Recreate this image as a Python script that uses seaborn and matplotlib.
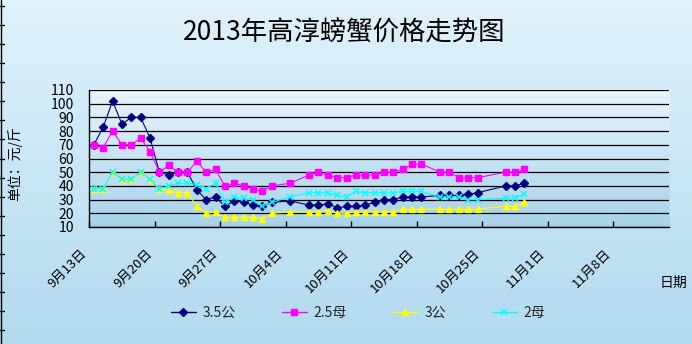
import numpy as np
import pandas as pd
import matplotlib
matplotlib.use("Agg")
import matplotlib.pyplot as plt
import seaborn as sns
from matplotlib.lines import Line2D
from matplotlib.colors import LinearSegmentedColormap

# ---- data -------------------------------------------------------------
dates = ["9-13", "9-14", "9-15", "9-16", "9-17", "9-18", "9-19", "9-20",
         "9-21", "9-22", "9-23", "9-24", "9-25", "9-26", "9-27", "9-28",
         "9-29", "9-30", "10-1", "10-2", "10-4", "10-6", "10-7", "10-8",
         "10-9", "10-10", "10-11", "10-12", "10-13", "10-14", "10-15",
         "10-16", "10-17", "10-18", "10-20", "10-21", "10-22", "10-23",
         "10-24", "10-27", "10-28", "10-29"]

price_35_male = [70, 83, 102, 85, 90, 90, 75, 50, 48, 50, 50, 37, 30, 32,
                 25, 29, 28, 26, 25, 28, 29, 26, 26, 27, 24, 25, 25, 26,
                 28, 30, 30, 32, 32, 32, 33, 33, 33, 34, 35, 40, 40, 42]
price_25_female = [70, 68, 80, 70, 70, 75, 65, 50, 55, 50, 50, 58, 50, 52,
                   40, 42, 40, 38, 36, 40, 42, 48, 50, 48, 46, 46, 48, 48,
                   48, 50, 50, 52, 56, 56, 50, 50, 46, 46, 46, 50, 50, 52]
price_3_male = [38, 38, 50, 45, 45, 50, 45, 38, 37, 35, 35, 25, 20, 21,
                17, 17, 17, 17, 16, 20, 21, 21, 21, 22, 20, 20, 21, 21,
                21, 21, 21, 23, 23, 23, 23, 23, 23, 23, 23, 25, 25, 28]
price_2_female = [38, 38, 50, 45, 45, 50, 45, 38, 40, 42, 42, 41, 38, 42,
                  28, 32, 31, 30, 25, 28, 32, 35, 35, 35, 33, 32, 36, 35,
                  35, 35, 35, 36, 36, 36, 32, 32, 32, 30, 30, 31, 31, 34]

series_names = ["3.5公", "2.5母", "3公", "2母"]
tick_dates = ["9-13", "9-20", "9-27", "10-4", "10-11", "10-18", "10-25",
              "11-1", "11-8"]
tick_labels = ["9月13日", "9月20日", "9月27日", "10月4日", "10月11日",
               "10月18日", "10月25日", "11月1日", "11月8日"]

# ---- styling ------------------------------------------------------------
sns.set_theme(style="white")
plt.rcParams["font.family"] = ["Noto Sans CJK SC", "DejaVu Sans"]
plt.rcParams["axes.unicode_minus"] = False

start = pd.Timestamp("2013-09-13")
day = [(pd.Timestamp(f"2013-{d}") - start).days for d in dates]
tick_pos = [(pd.Timestamp(f"2013-{d}") - start).days - 0.5 for d in tick_dates]

styles = [
    dict(color="#000080", marker="D", markersize=4.2),
    dict(color="#ff00ff", marker="s", markersize=5),
    dict(color="#ffff00", marker="^", markersize=5),
    dict(color="#00ffff", marker="x", markersize=5, markeredgewidth=1.1),
]
values = [price_35_male, price_25_female, price_3_male, price_2_female]

W, H = 692, 344
fig = plt.figure(figsize=(W / 100, H / 100), dpi=100)

# figure background gradient
grad = np.linspace(0, 1, 256).reshape(-1, 1)
bg = fig.add_axes([0, 0, 1, 1], zorder=-10)
bg.imshow(grad, aspect="auto", origin="upper", extent=[0, 1, 0, 1],
          cmap=LinearSegmentedColormap.from_list("fig", ["#e0f2fb", "#b2daef"]))
bg.set_axis_off()

# plot area
x0, x1, y0, y1 = 89.2, 669.4, 90, 227
ax = fig.add_axes([x0 / W, 1 - y1 / H, (x1 - x0) / W, (y1 - y0) / H])
xmin, xmax = -0.5, 61.5
ax.imshow(grad, aspect="auto", origin="upper", extent=[xmin, xmax, 10, 110],
          cmap=LinearSegmentedColormap.from_list("plot", ["#e8f5fc", "#a6d2eb"]),
          zorder=0)

for name, vals, st in zip(series_names, values, styles):
    sns.lineplot(x=day, y=vals, ax=ax, color=st["color"], marker=st["marker"],
                 markersize=st["markersize"], markeredgecolor=st["color"],
                 markeredgewidth=st.get("markeredgewidth", 1), linewidth=0.8,
                 label=name, legend=False)

ax.set_xlim(xmin, xmax)
ax.set_ylim(10, 110)
ax.set_yticks(range(10, 111, 10))
ax.set_xticks(tick_pos)
ax.set_xticklabels(tick_labels, rotation=45, ha="right", va="top")
ax.grid(axis="y", color="black", linewidth=0.9)
ax.grid(axis="x", visible=False)
ax.set_axisbelow(True)
ax.set_xlabel("")
ax.set_ylabel("")
for s in ("top", "right"):
    ax.spines[s].set_visible(False)
for s in ("left", "bottom"):
    ax.spines[s].set_color("black")
    ax.spines[s].set_linewidth(1)
ax.tick_params(axis="y", length=0, pad=11, labelsize=10, labelcolor="black")
ax.tick_params(axis="x", direction="in", length=4, width=1, color="black",
               pad=14, labelsize=9.5, labelcolor="black", bottom=True)

# texts
fig.text(344 / W, 1 - 33 / H, "2013年高淳螃蟹价格走势图", ha="center",
         va="center", fontsize=19, color="black")
fig.text(15 / W, 1 - 164 / H, "单位：元/斤", rotation=90, ha="center",
         va="center", fontsize=10, color="black")
fig.text(673 / W, 1 - 283 / H, "日期", ha="center", va="center",
         fontsize=10, color="black")

# legend
handles = [Line2D([], [], color=st["color"], marker=st["marker"],
                  markersize=st["markersize"], markeredgecolor=st["color"],
                  markeredgewidth=st.get("markeredgewidth", 1), linewidth=1)
           for st in styles]
fig.legend(handles, series_names, loc="center",
           bbox_to_anchor=(358 / W, 1 - 313 / H), ncol=4, frameon=False,
           fontsize=10, handlelength=1.8, handletextpad=0.5,
           columnspacing=3.3)

# thin ruler along the left border
fig.add_artist(Line2D([1.5 / W, 1.5 / W], [0, 1], transform=fig.transFigure,
                      color="black", linewidth=1))
for k in range(18):
    yy = 1 - (5.7 + 19.1 * k) / H
    fig.add_artist(Line2D([0, 4 / W], [yy, yy], transform=fig.transFigure,
                          color="black", linewidth=1))

fig.savefig("out.png", dpi=100)
